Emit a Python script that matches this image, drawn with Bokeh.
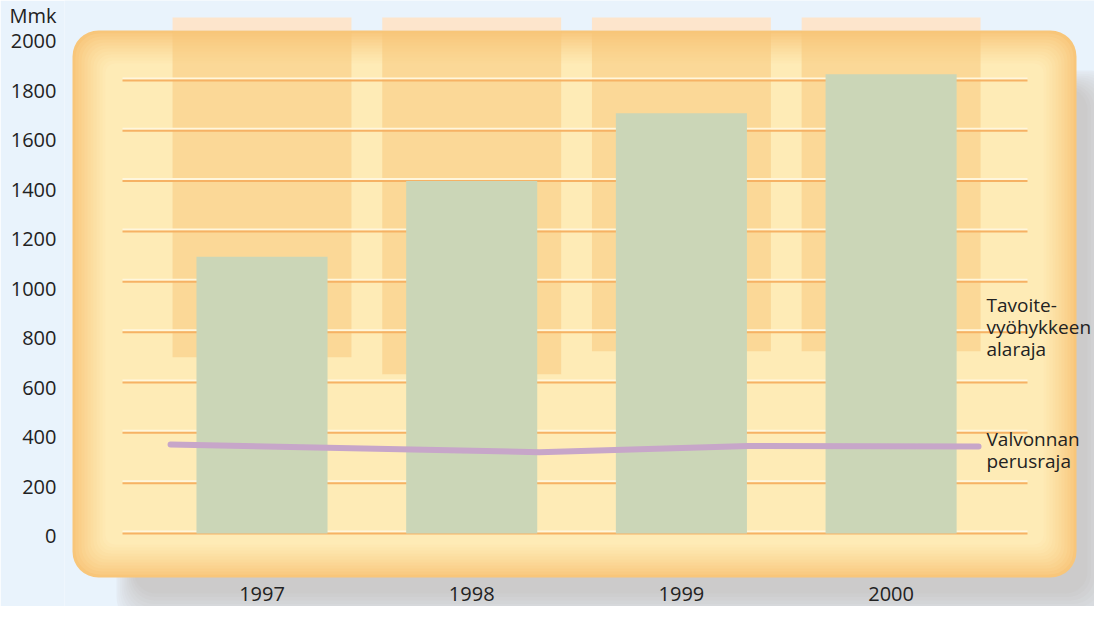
from bokeh.plotting import figure
from bokeh.models import Range1d, BoxAnnotation, FixedTicker, LinearAxis
from bokeh.core.properties import value
from bokeh.embed import file_html
from bokeh.resources import INLINE

# ---------------- data ----------------
years = ["1997", "1998", "1999", "2000"]
spending = [1100, 1400, 1670, 1825]          # Mmk (green bars)
target_low = [700, 633, 724, 724]            # Tavoitevyöhykkeen alaraja
perus_x = [-0.436, 1.323, 2.320, 3.417]      # vertices of the line along the year axis
perus_values = [354, 323, 348, 346]          # Valvonnan perusraja
y_ticks = [0, 200, 400, 600, 800, 1000, 1200, 1400, 1600, 1800, 2000]
grid_values = [0, 200, 400, 600, 800, 1000, 1200, 1400, 1600, 1800]
unit_label = "Mmk"
labels_right = ["Tavoite-\nvyöhykkeen\nalaraja", "Valvonnan\nperusraja"]

# ---------------- styling / layout ----------------
BG = "#e9f3fc"
FONT = "Open Sans"
W, H = 1094, 606
X0, DX = 261.5, 209.7      # pixel position of first category, pixels per category
Y0, KY = 533.0, 0.2517     # pixel position of value 0, pixels per unit
LY0, LKY = 535.0, 0.2475   # tick-label placement (labels sit a little below the lines)


def dx(sx):
    return (sx - X0) / DX


def dy(sy):
    return (Y0 - sy) / KY


def mix(c1, c2, t):
    return "#%02x%02x%02x" % tuple(int(round(a + (b - a) * t)) for a, b in zip(c1, c2))


p = figure(width=W, height=H, output_backend="svg", toolbar_location=None,
           x_range=Range1d(dx(64), dx(W)), y_range=Range1d(dy(H), dy(0)),
           x_axis_location=None, y_axis_location=None,
           min_border_left=64, min_border_right=0, min_border_top=0, min_border_bottom=0)
p.grid.visible = False
p.outline_line_color = None
p.background_fill_color = BG
p.border_fill_color = BG

# y-axis labels (placed slightly below the grid lines as in the original), unit on top
unit_pos = (LY0 - 14.5) / LKY
p.extra_y_ranges = {"lab": Range1d((LY0 - H) / LKY, LY0 / LKY)}
yaxis = LinearAxis(y_range_name="lab", ticker=FixedTicker(ticks=y_ticks + [unit_pos]),
                   major_label_overrides={unit_pos: unit_label},
                   axis_line_color=None, major_tick_line_color=None,
                   minor_tick_line_color=None, major_tick_out=0, major_tick_in=0,
                   major_label_standoff=8,
                   major_label_text_font=FONT, major_label_text_font_size="20px",
                   major_label_text_color="#222222")
p.add_layout(yaxis, "left")

# drop shadow (soft)
sh_out, sh_in = (228, 235, 243), (204, 203, 203)
NS = 11
for i in range(NS):
    ins = i * 3.5
    p.add_layout(BoxAnnotation(left=dx(116 + ins * 0.5), right=dx(1122 - ins),
                               top=dy(70 + ins * 0.5), bottom=dy(628 - ins),
                               fill_color=mix(sh_out, sh_in, i / (NS - 1)), fill_alpha=1,
                               line_color=None, border_radius=int(max(32 - i, 10)),
                               level="underlay"))

# rounded panel with glowing edge
edge, inner = (248, 198, 122), (254, 235, 182)
N = 12
for i in range(N):
    ins = i * 3
    p.add_layout(BoxAnnotation(left=dx(72 + ins), right=dx(1076 - ins),
                               top=dy(30 + ins), bottom=dy(577 - ins),
                               fill_color=mix(edge, inner, (i / (N - 1)) ** 0.8), fill_alpha=1,
                               line_color=None, border_radius=int(max(26 - 1.5 * i, 8)),
                               level="underlay"))

idx = list(range(len(years)))
ZONE_W = 0.853
panel_top = dy(30)
zone_top = dy(17)

# target zone (part above the panel, and translucent part on it)
p.quad(left=[i - ZONE_W / 2 for i in idx], right=[i + ZONE_W / 2 for i in idx],
       bottom=[panel_top] * 4, top=[zone_top] * 4,
       fill_color="#fde5cc", line_color=None)
p.quad(left=[i - ZONE_W / 2 for i in idx], right=[i + ZONE_W / 2 for i in idx],
       bottom=target_low, top=[panel_top] * 4,
       fill_color="#f7c578", fill_alpha=0.5, line_color=None)

# grid lines with highlight
gx0, gx1 = dx(122), dx(1027)
n = len(grid_values)
p.segment(x0=[gx0] * n, x1=[gx1] * n, y0=[v + 2 / KY for v in grid_values],
          y1=[v + 2 / KY for v in grid_values], line_color="#fff6dc", line_width=2)
p.segment(x0=[gx0] * n, x1=[gx1] * n, y0=grid_values, y1=grid_values,
          line_color="#f6b264", line_width=2)

# bars
p.vbar(x=idx, top=spending, bottom=0, width=0.625, fill_color="#cbd6b7", line_color=None)

# Valvonnan perusraja
p.line(perus_x, perus_values, line_width=6, line_color="#c7a6c9",
       line_cap="round", line_join="round")

# category labels
p.text(x=idx, y=[dy(586)] * 4, text=years, text_font=value(FONT),
       text_font_size="20px", text_color="#222222",
       text_align="center", text_baseline="top")

# right-hand labels
p.text(x=[dx(986)] * 2, y=[dy(291), dy(425)], text=labels_right, text_font=value(FONT),
       text_font_size="19px", text_color="#222222", text_align="left",
       text_baseline="top", text_line_height=0.85)

open("out.html", "w").write(file_html(p, INLINE))
